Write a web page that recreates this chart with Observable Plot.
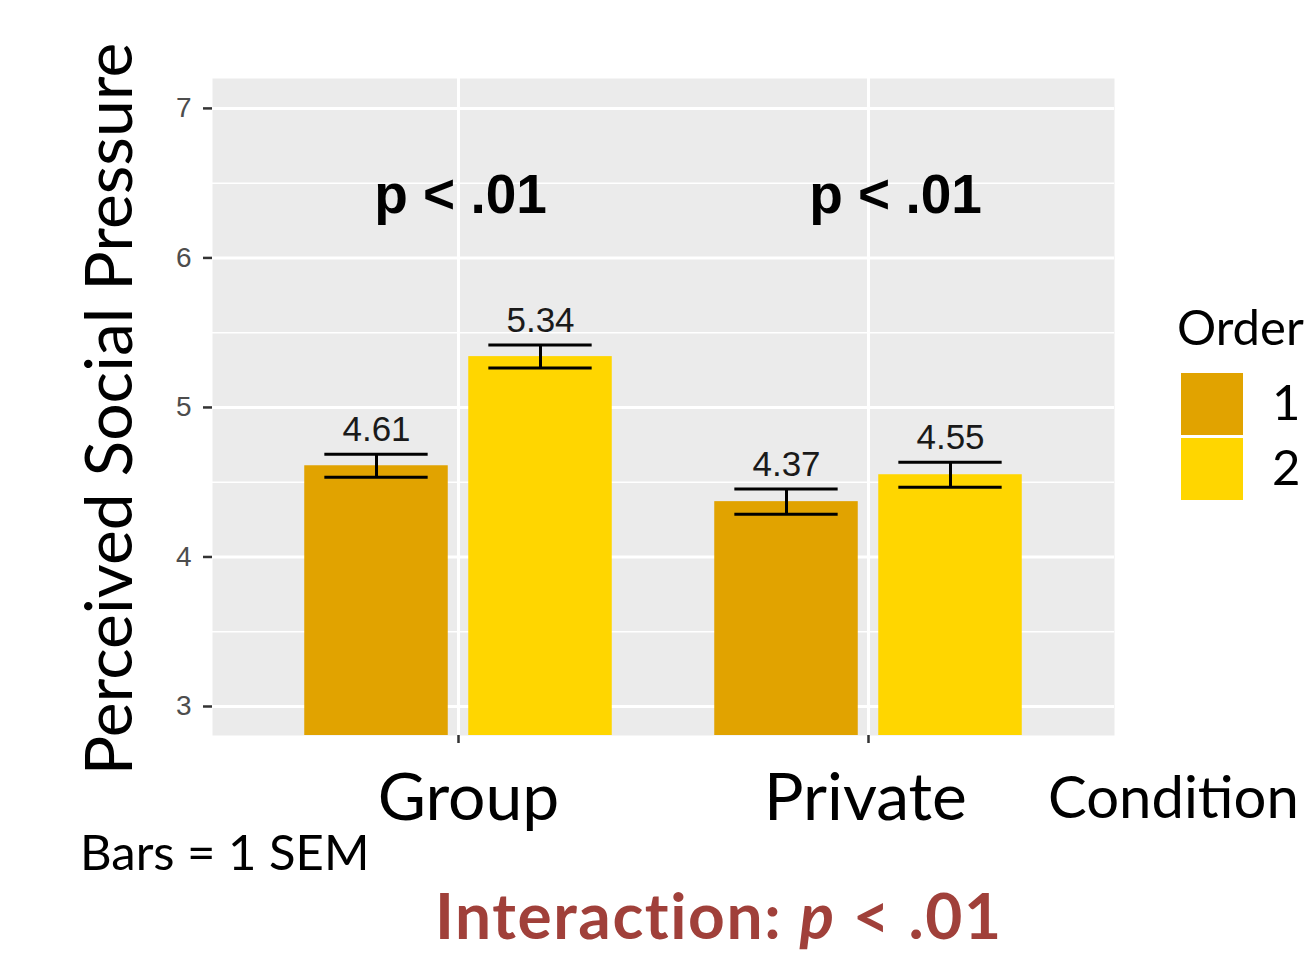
<!DOCTYPE html>
<html><head><meta charset="utf-8">
<script src="https://cdn.jsdelivr.net/npm/d3@7"></script>
<script src="https://cdn.jsdelivr.net/npm/@observablehq/plot@0.6"></script>
<style>
body{margin:0;background:#fff;}
#wrap{position:relative;width:1311px;height:957px;overflow:hidden;}
#wrap svg{position:absolute;left:0;top:0;}
.t{position:absolute;white-space:nowrap;line-height:1;font-family:Lato,"Open Sans",sans-serif;color:#000;}
</style></head><body><div id="wrap"></div>
<script>
// ---- data ----
const conditions = ["Group", "Private"];
const orders = ["1", "2"];
const meansOrder1 = [4.61, 4.37];
const meansOrder2 = [5.34, 4.55];
const semOrder1 = [0.077, 0.084];
const semOrder2 = [0.077, 0.084];
const yTicks = [3, 4, 5, 6, 7];
const yMinor = [3.5, 4.5, 5.5, 6.5];
const pLabels = ["p < .01", "p < .01"];
const orderColors = ["#E1A300", "#FFD600"];

// ---- build table ----
const rows = [];
conditions.forEach((c, i) => {
  rows.push({condition: c, order: orders[0], ci: i + 1, oi: 0, mean: meansOrder1[i], sem: semOrder1[i]});
  rows.push({condition: c, order: orders[1], ci: i + 1, oi: 1, mean: meansOrder2[i], sem: semOrder2[i]});
});
const dodge = 0.2, barHalf = 0.175, capHalf = 0.126;
rows.forEach(r => { r.xc = r.ci + (r.oi === 0 ? -dodge : dodge); });
const pData = conditions.map((c, i) => ({ci: i + 1 + (i === 0 ? 0.005 : 0.066), text: pLabels[i]}));
const yDomain = [2.806, 7.2];

const plot = Plot.plot({
  width: 1311, height: 957,
  marginLeft: 212, marginRight: 197, marginTop: 78, marginBottom: 222,
  x: {type: "linear", domain: [0.4, 2.6]},
  y: {domain: yDomain},
  color: {domain: orders, range: orderColors},
  style: {background: "transparent"},
  marks: [
    Plot.frame({fill: "#EBEBEB", stroke: "none"}),
    Plot.gridY(yMinor, {stroke: "#fff", strokeOpacity: 1, strokeWidth: 1.5}),
    Plot.gridY(yTicks, {stroke: "#fff", strokeOpacity: 1, strokeWidth: 3}),
    Plot.gridX([1, 2], {stroke: "#fff", strokeOpacity: 1, strokeWidth: 3}),
    Plot.rectY(rows, {x1: d => d.xc - barHalf, x2: d => d.xc + barHalf, y1: yDomain[0], y2: "mean", fill: "order"}),
    Plot.ruleX(rows, {x: "xc", y1: d => d.mean - d.sem, y2: d => d.mean + d.sem, stroke: "#000", strokeWidth: 3}),
    Plot.ruleY(rows, {x1: d => d.xc - capHalf, x2: d => d.xc + capHalf, y: d => d.mean + d.sem, stroke: "#000", strokeWidth: 3}),
    Plot.ruleY(rows, {x1: d => d.xc - capHalf, x2: d => d.xc + capHalf, y: d => d.mean - d.sem, stroke: "#000", strokeWidth: 3}),
    Plot.text(rows, {x: "xc", y: d => d.mean + d.sem + 0.09, text: d => d.mean.toFixed(2), lineAnchor: "bottom",
      fontSize: 35, fill: "#1a1a1a", fontFamily: "Liberation Sans, Arial, sans-serif"}),
    Plot.text(pData, {x: "ci", y: 6.3, text: "text", lineAnchor: "bottom", fontSize: 55, fontWeight: "bold",
      fill: "#000", fontFamily: "Liberation Sans, Arial, sans-serif"}),
    Plot.axisY(yTicks, {tickSize: 9, tickPadding: 12, fontSize: 28, color: "#4D4D4D", stroke: "#333",
      strokeWidth: 2.5, label: null, tickFormat: d => String(d), fontFamily: "Liberation Sans, Arial, sans-serif"}),
    // x tick marks
    Plot.axisX([1, 2], {tickSize: 8, stroke: "#333", strokeWidth: 2.5, tickFormat: () => "", label: null}),
    // x tick labels
    Plot.axisX([1], {tickSize: 0, tickPadding: 38, fontSize: 66, color: "#000",
      tickFormat: v => conditions[v - 1], label: null, fontFamily: "Lato, sans-serif", dx: 10}),
    Plot.axisX([2], {tickSize: 0, tickPadding: 38, fontSize: 66, color: "#000",
      tickFormat: v => conditions[v - 1], label: null, fontFamily: "Lato, sans-serif", dx: -3})
  ]
});
const wrap = document.getElementById("wrap");
wrap.appendChild(plot);

function addText(txt, left, baseline, size, opts = {}) {
  const d = document.createElement("div");
  d.className = "t";
  d.innerHTML = txt;
  d.style.fontSize = size + "px";
  d.style.left = left + "px";
  d.style.top = (baseline - 0.887 * size) + "px";
  if (opts.weight) d.style.fontWeight = opts.weight;
  if (opts.color) d.style.color = opts.color;
  if (opts.ls) d.style.letterSpacing = opts.ls;
  wrap.appendChild(d);
  return d;
}
// y label (rotated)
const yl = document.createElement("div");
yl.className = "t";
yl.textContent = "Perceived Social Pressure";
yl.style.fontSize = "66px";
yl.style.left = "107px"; yl.style.top = "409px";
yl.style.transform = "translate(-50%,-50%) rotate(-90deg)";
wrap.appendChild(yl);

addText("Condition", 1048, 818, 58);
addText("Bars = 1 SEM", 80, 870, 49);
addText('Interaction: <i>p</i> &lt; .01', 435, 940, 64, {weight: 700, color: "#A0403A", ls: "1.6px"});

// legend
addText("Order", 1177, 345, 49);
orders.forEach((o, i) => {
  const sw = document.createElement("div");
  sw.style.cssText = `position:absolute;left:1181px;top:${373 + i * 65}px;width:62px;height:62px;background:${orderColors[i]};`;
  wrap.appendChild(sw);
  addText(o, 1272, 420 + i * 65, 49);
});
</script></body></html>
